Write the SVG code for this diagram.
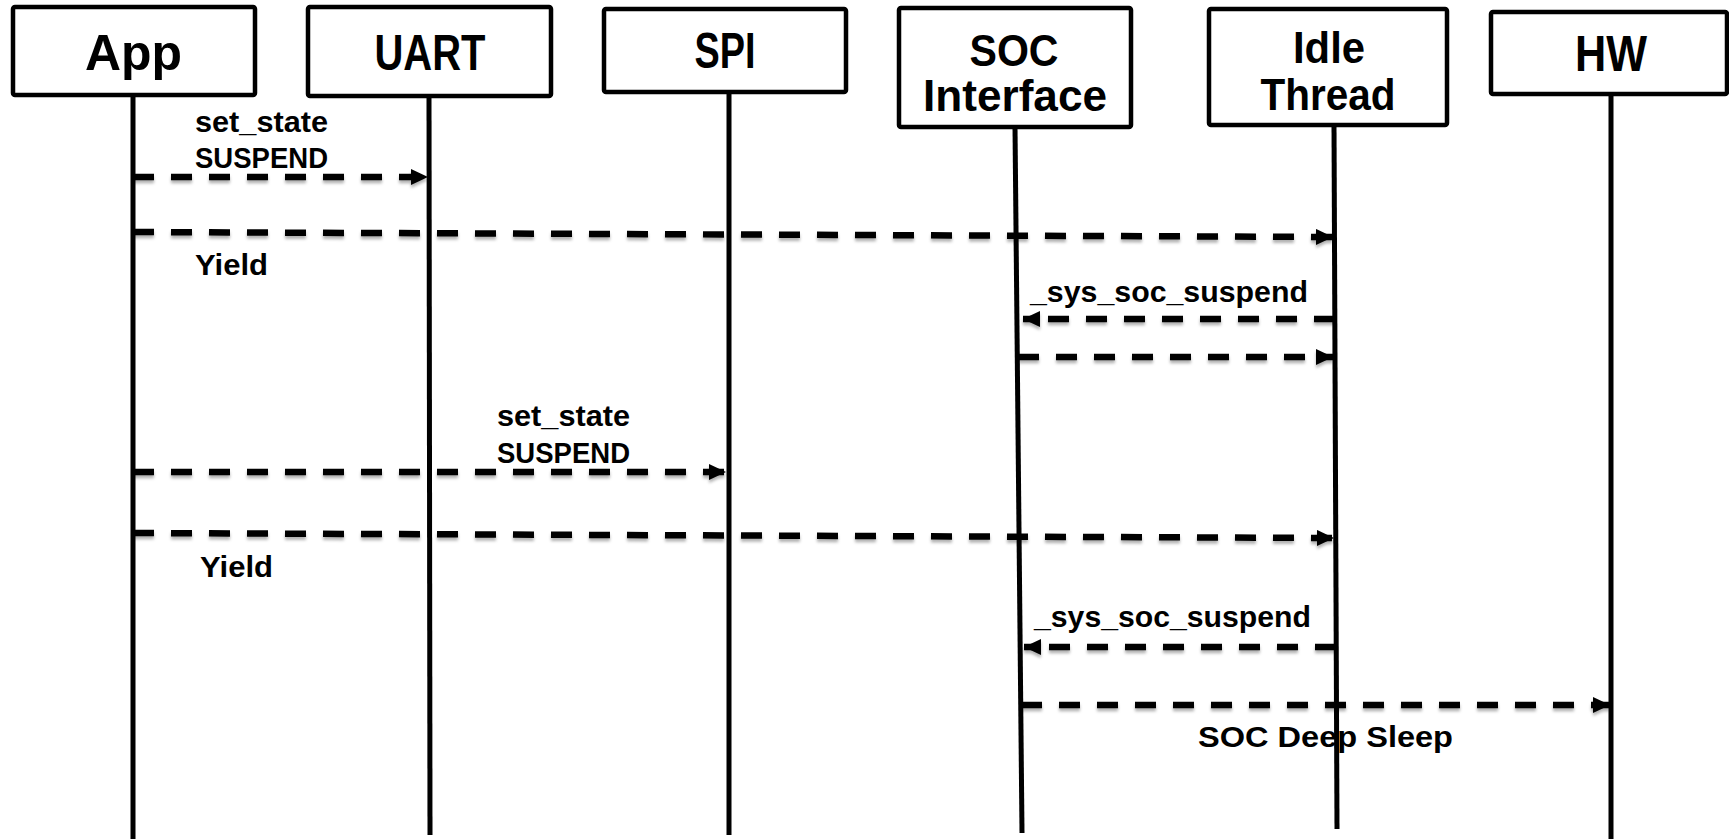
<svg xmlns="http://www.w3.org/2000/svg" width="1729" height="839" viewBox="0 0 1729 839">
  <style>
    .box { fill: #ffffff; stroke: #000000; stroke-width: 4.5; }
    .life { stroke: #000000; stroke-width: 5; fill: none; }
    .msg { stroke: #000000; stroke-width: 6.5; stroke-dasharray: 21 17; fill: none; marker-end: url(#head); }
    .title { font-family: "Liberation Sans", Arial, sans-serif; font-weight: bold; font-size: 50px; fill: #000; text-anchor: middle; }
    .title2 { font-family: "Liberation Sans", Arial, sans-serif; font-weight: bold; font-size: 44px; fill: #000; text-anchor: middle; }
    .lbl { font-family: "Liberation Sans", Arial, sans-serif; font-weight: bold; font-size: 29px; fill: #000; }
  </style>
  <defs>
    <marker id="head" markerUnits="userSpaceOnUse" markerWidth="18" markerHeight="17" refX="17" refY="8" orient="auto">
      <path d="M0,0 L17,8 L0,16 Z" fill="#000000"/>
    </marker>
    <filter id="shade" x="-5%" y="-50%" width="110%" height="200%">
      <feDropShadow dx="0" dy="3" stdDeviation="1.6" flood-color="#000000" flood-opacity="0.3"/>
    </filter>
  </defs>
  <rect width="1729" height="839" fill="#ffffff"/>

  <!-- lifelines -->
  <g id="lifelines">
    <line class="life" x1="133" y1="95" x2="133" y2="842"/>
    <line class="life" x1="429" y1="96" x2="430" y2="835"/>
    <line class="life" x1="729" y1="92" x2="729" y2="835"/>
    <line class="life" x1="1015" y1="127" x2="1022" y2="833"/>
    <line class="life" x1="1334" y1="125" x2="1337" y2="829"/>
    <line class="life" x1="1611" y1="94" x2="1611" y2="842"/>
  </g>

  <!-- participants -->
  <g id="app">
    <rect class="box" x="13" y="7" width="242" height="88" rx="2"/>
    <text class="title" x="133.5" y="70" textLength="97" lengthAdjust="spacingAndGlyphs">App</text>
  </g>
  <g id="uart">
    <rect class="box" x="308" y="7" width="243" height="89" rx="2"/>
    <text class="title" x="430" y="70" textLength="111" lengthAdjust="spacingAndGlyphs">UART</text>
  </g>
  <g id="spi">
    <rect class="box" x="604" y="9" width="242" height="83" rx="2"/>
    <text class="title" x="725" y="68" textLength="61" lengthAdjust="spacingAndGlyphs">SPI</text>
  </g>
  <g id="soc-interface">
    <rect class="box" x="899" y="8" width="232" height="119" rx="2"/>
    <text class="title2" x="1014" y="66" textLength="89" lengthAdjust="spacingAndGlyphs">SOC</text>
    <text class="title2" x="1015" y="111" textLength="184" lengthAdjust="spacingAndGlyphs">Interface</text>
  </g>
  <g id="idle-thread">
    <rect class="box" x="1209" y="9" width="238" height="116" rx="2"/>
    <text class="title2" x="1329" y="63" textLength="72" lengthAdjust="spacingAndGlyphs">Idle</text>
    <text class="title2" x="1328" y="110" textLength="135" lengthAdjust="spacingAndGlyphs">Thread</text>
  </g>
  <g id="hw">
    <rect class="box" x="1491" y="12" width="236" height="82" rx="2"/>
    <text class="title" x="1611" y="71" textLength="72" lengthAdjust="spacingAndGlyphs">HW</text>
  </g>

  <!-- messages -->
  <g id="connectors" filter="url(#shade)">
    <line class="msg" x1="133" y1="177" x2="428" y2="177"/>
    <line class="msg" x1="133" y1="232" x2="1333" y2="237"/>
    <line class="msg" x1="1335" y1="319" x2="1023" y2="319"/>
    <line class="msg" x1="1018" y1="357" x2="1333" y2="357"/>
    <line class="msg" x1="133" y1="472" x2="726" y2="472"/>
    <line class="msg" x1="133" y1="533" x2="1334" y2="538"/>
    <line class="msg" x1="1336" y1="647" x2="1024" y2="647"/>
    <line class="msg" x1="1021" y1="705" x2="1610" y2="705"/>
  </g>

  <!-- message labels -->
  <g id="labels">
    <text class="lbl" x="195" y="132" textLength="133" lengthAdjust="spacingAndGlyphs">set_state</text>
    <text class="lbl" x="195" y="168" textLength="133" lengthAdjust="spacingAndGlyphs">SUSPEND</text>
    <text class="lbl" x="195" y="275" textLength="73" lengthAdjust="spacingAndGlyphs">Yield</text>
    <text class="lbl" x="1030" y="302" textLength="278" lengthAdjust="spacingAndGlyphs">_sys_soc_suspend</text>
    <text class="lbl" x="497" y="426" textLength="133" lengthAdjust="spacingAndGlyphs">set_state</text>
    <text class="lbl" x="497" y="463" textLength="133" lengthAdjust="spacingAndGlyphs">SUSPEND</text>
    <text class="lbl" x="200" y="577" textLength="73" lengthAdjust="spacingAndGlyphs">Yield</text>
    <text class="lbl" x="1034" y="627" textLength="277" lengthAdjust="spacingAndGlyphs">_sys_soc_suspend</text>
    <text class="lbl" x="1198" y="747" textLength="255" lengthAdjust="spacingAndGlyphs">SOC Deep Sleep</text>
  </g>
</svg>
